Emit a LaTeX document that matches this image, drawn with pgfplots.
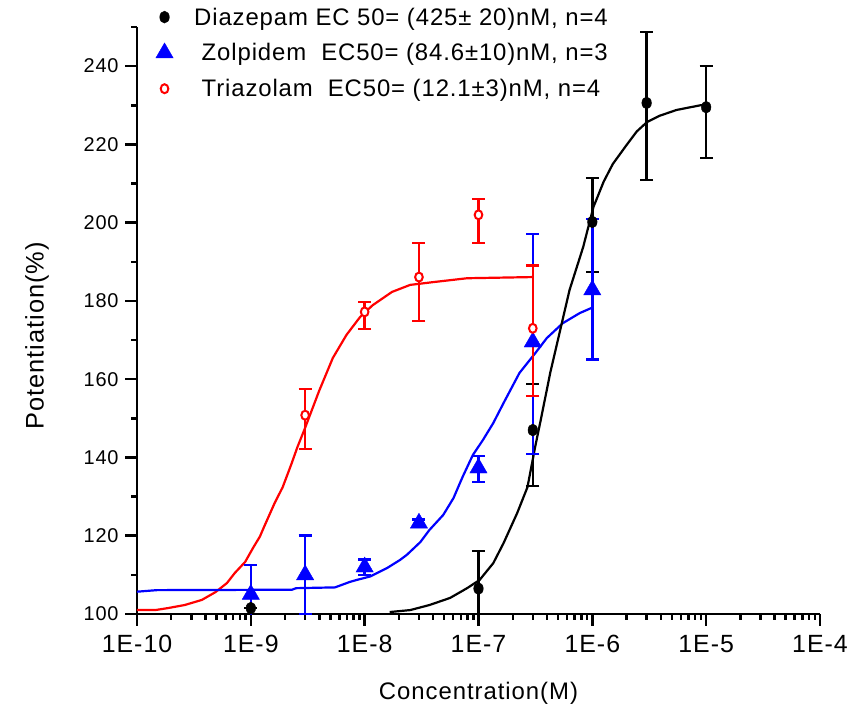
\documentclass[border=0pt]{standalone}
\usepackage{pgfplots}
\pgfplotsset{compat=1.18}
\usepackage{fontspec}
\setmainfont{Liberation Sans}[LetterSpace=4]
\newfontfamily\legendfamily{Liberation Sans}[LetterSpace=3.7]
\definecolor{myblue}{RGB}{0,0,255}
\definecolor{myred}{RGB}{255,0,0}
\newcommand{\legfont}{\legendfamily\fontsize{24}{27}\selectfont}
\begin{document}
\begin{tikzpicture}
\useasboundingbox (-137bp,-97bp) rectangle (719bp,614bp);
\begin{axis}[
  at={(0,0)}, anchor=south west,
  scale only axis, width=683bp, height=587bp,
  xmode=log, xmin=1e-10, xmax=1e-4, ymin=100, ymax=250,
  axis lines*=left,
  axis line style={line width=2.8bp, black},
  xtick={1e-10,1e-9,1e-8,1e-7,1e-6,1e-5,1e-4},
  xticklabels={1E-10,1E-9,1E-8,1E-7,1E-6,1E-5,1E-4},
  minor xtick={2e-10,3e-10,4e-10,5e-10,6e-10,7e-10,8e-10,9e-10,
               2e-9,3e-9,4e-9,5e-9,6e-9,7e-9,8e-9,9e-9,
               2e-8,3e-8,4e-8,5e-8,6e-8,7e-8,8e-8,9e-8,
               2e-7,3e-7,4e-7,5e-7,6e-7,7e-7,8e-7,9e-7,
               2e-6,3e-6,4e-6,5e-6,6e-6,7e-6,8e-6,9e-6,
               2e-5,3e-5,4e-5,5e-5,6e-5,7e-5,8e-5,9e-5},
  ytick={100,120,...,240},
  minor ytick={110,130,...,250},
  tick align=outside, major tick length=12bp, minor tick length=6bp,
  tick style={line width=2.5bp, black},
  xticklabel style={font=\fontsize{25}{29}\selectfont, yshift=-6bp},
  yticklabel style={font=\fontsize{20}{24}\selectfont, xshift=-3bp},
  /pgf/number format/assume math mode=true,
  xlabel={Concentration(M)}, ylabel={Potentiation(\%)},
  xlabel style={font=\fontsize{24}{28}\selectfont, at={(axis description cs:0.5,-0.1346)}, anchor=center},
  ylabel style={font=\fontsize{25.5}{29}\selectfont, at={(axis description cs:-0.1464,0.4736)}, anchor=center},
  legend style={draw=none, fill=none, at={(axis description cs:0.023,1.04)}, anchor=north west,
    font=\legfont, row sep=13bp, legend cell align=left,
    nodes={font=\legfont},
    /tikz/every odd column/.append style={column sep=19bp}},
]
% fitted curves
\addplot[forget plot, myred, line width=2.2bp] coordinates {
(1e-10,101) (1.445e-10,101) (1.862e-10,101.5) (2.630e-10,102.3) (3.715e-10,103.6)
(4.898e-10,105.6) (6.166e-10,107.9) (7.244e-10,110.5) (8.913e-10,113.3) (1.047e-9,116.9)
(1.202e-9,119.8) (1.318e-9,122.5) (1.622e-9,128.4) (1.905e-9,132.4) (2.291e-9,138.6)
(2.570e-9,142.7) (3.020e-9,147.8) (3.981e-9,157) (5.248e-9,165.4) (6.918e-9,171.3)
(9.120e-9,175.9) (1.175e-8,178.9) (1.738e-8,182.3) (2.512e-8,184.1) (3.981e-8,184.8)
(7.943e-8,185.8) (3e-7,186.1)
};
\addplot[forget plot, myblue, line width=2.2bp] coordinates {
(1e-10,105.7) (1.5e-10,106.1) (2.3e-9,106.2) (2.5e-9,106.6) (5.495e-9,106.8)
(7.413e-9,108.2) (8.511e-9,108.7) (1.122e-8,109.6) (1.585e-8,111.8) (2.042e-8,113.8)
(2.344e-8,115.1) (3.090e-8,118.4) (3.715e-8,121.5) (4.898e-8,125.3) (6.026e-8,129.6)
(7.244e-8,135) (8.913e-8,140.6) (1.096e-7,144.5) (1.349e-7,148.8) (1.660e-7,153.9)
(2.291e-7,161.6) (3.162e-7,166.7) (3.981e-7,170.5) (5.495e-7,174.3) (7.762e-7,176.9)
(1e-6,178.3)
};
\addplot[forget plot, black, line width=2.2bp] coordinates {
(1.660e-8,100.5) (2.512e-8,101) (3.715e-8,102.3) (5.623e-8,104.1) (7.943e-8,106.6)
(1.023e-7,108.7) (1.349e-7,113) (1.660e-7,118.1) (2.188e-7,125.8) (2.692e-7,132.4)
(3.162e-7,143) (3.548e-7,150) (4.266e-7,161.6) (6.310e-7,182.8) (8.318e-7,193.8)
(1.023e-6,204) (1.259e-6,210.5) (1.514e-6,215) (1.995e-6,219.8) (2.455e-6,223.3)
(3.020e-6,225.7) (3.890e-6,227.3) (5.495e-6,228.8) (8.913e-6,230) (1e-5,230)
};
% data points
\addplot[only marks, black, mark=*, mark size=6bp, mark options={xscale=0.8},
  error bars/.cd, y dir=both, y explicit,
  error bar style={line width=2.6bp, black},
  error mark options={line width=2.6bp, mark size=6.5bp, rotate=90, black}]
coordinates {
(1e-9,101.5) += (0,0) -= (0,0)
(1e-7,106.5) += (0,9.6) -= (0,9.6)
(3e-7,147) += (0,11.8) -= (0,14.3)
(1e-6,200.2) += (0,11.2) -= (0,12.8)
(3e-6,230.6) += (0,18.1) -= (0,19.7)
(1e-5,229.5) += (0,10.5) -= (0,13)
};
\addlegendentry{\legfont Diazepam EC 50= (425± 20)nM, n=4}
\addplot[only marks, myblue, mark=triangle*, mark size=10bp,
  error bars/.cd, y dir=both, y explicit,
  error bar style={line width=2.6bp, myblue},
  error mark options={line width=2.6bp, mark size=6.5bp, rotate=90, myblue}]
coordinates {
(1e-9,105) += (0,7.5) -= (0,7.5)
(3e-9,110) += (0,10) -= (0,10)
(1e-8,112) += (0,2) -= (0,2)
(3e-8,123.2) += (0,1) -= (0,1)
(1e-7,137.3) += (0,3.1) -= (0,3.6)
(3e-7,169.5) += (0,27.6) -= (0,28.6)
(1e-6,182.8) += (0,18.1) -= (0,17.7)
};
\addlegendentry{\legfont\ Zolpidem\ \ EC50= (84.6±10)nM, n=3}
\addplot[only marks, myred, mark=*, mark size=4.5bp, mark options={xscale=0.85, fill=white, line width=2bp},
  error bars/.cd, y dir=both, y explicit,
  error bar style={line width=2.6bp, myred},
  error mark options={line width=2.6bp, mark size=6.5bp, rotate=90, myred}]
coordinates {
(3e-9,150.8) += (0,6.7) -= (0,8.6)
(1e-8,177.2) += (0,2.5) -= (0,4.4)
(3e-8,186.1) += (0,8.7) -= (0,11.2)
(1e-7,202) += (0,4) -= (0,7.2)
(3e-7,173) += (0,16) -= (0,17.3)
};
\addlegendentry{\legfont\ Triazolam\ \ EC50= (12.1±3)nM, n=4}
\end{axis}
\end{tikzpicture}
\end{document}
